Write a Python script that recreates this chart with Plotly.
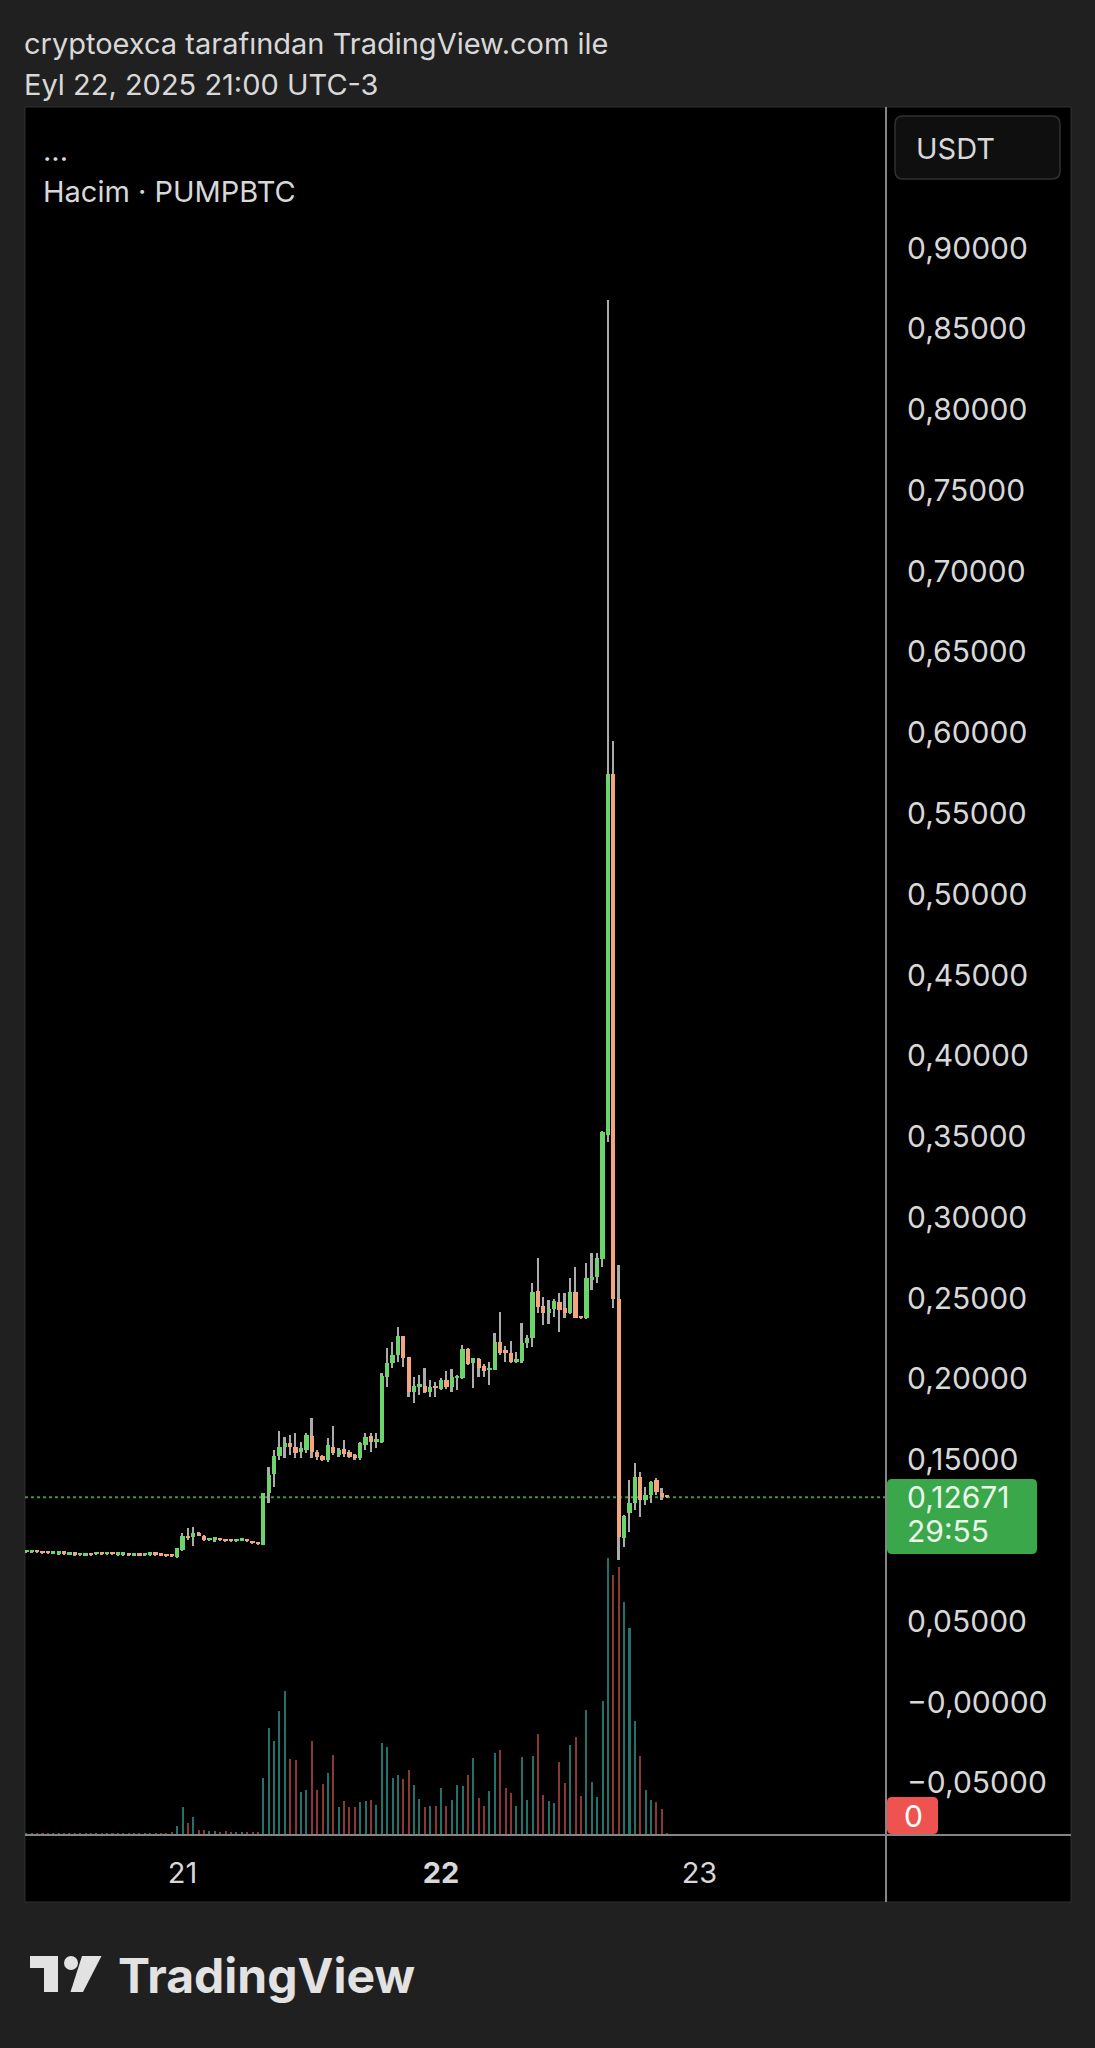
import pandas as pd
import plotly.graph_objects as go

# ---------------- data ----------------
start_time = "2025-09-20 09:30"
bar_minutes = 30

opens = [
    0.0928, 0.0928, 0.0928, 0.0925, 0.0924, 0.0919, 0.0917, 0.0919, 0.0913, 0.0913,
    0.0909, 0.0907, 0.0911, 0.0914, 0.0917, 0.0915, 0.0917, 0.0911, 0.0911, 0.0911,
    0.0907, 0.0909, 0.0909, 0.0911, 0.0913, 0.0909, 0.0905, 0.0903,
    0.0896, 0.0940, 0.1029, 0.1022, 0.1043, 0.1029, 0.1003, 0.1004, 0.1007, 0.1001,
    0.0997, 0.0996, 0.0999, 0.1001, 0.0988, 0.0983,
    0.0972, 0.1292, 0.1410, 0.1520, 0.1581, 0.1601, 0.1581, 0.1550, 0.1560, 0.1649,
    0.1550, 0.1523, 0.1498, 0.1581, 0.1529, 0.1566, 0.1550, 0.1529, 0.1508, 0.1591,
    0.1649, 0.1612, 0.1612, 0.2014, 0.2097, 0.2148, 0.2266, 0.2134, 0.1921, 0.1952,
    0.1958, 0.1921, 0.1952,
    0.1938, 0.1993, 0.1952, 0.2004, 0.2004, 0.2183, 0.2097, 0.2122, 0.2080, 0.2055,
    0.2055, 0.2231, 0.2179, 0.2163, 0.2107, 0.2111, 0.2220, 0.2251, 0.2544, 0.2451,
    0.2406, 0.2431, 0.2478, 0.2437, 0.2406, 0.2540, 0.2390, 0.2375, 0.2612, 0.2633,
    0.2740, 0.3507, 0.5744, 0.2496, 0.1014, 0.1168, 0.1230, 0.1395, 0.1251, 0.1282,
    0.1374, 0.1292, 0.1268,
]
highs = [
    0.0931, 0.0931, 0.0929, 0.0926, 0.0925, 0.0922, 0.0920, 0.0920, 0.0916, 0.0914,
    0.0912, 0.0910, 0.0912, 0.0918, 0.0918, 0.0918, 0.0918, 0.0914, 0.0914, 0.0912,
    0.0910, 0.0910, 0.0912, 0.0914, 0.0914, 0.0910, 0.0906, 0.0904,
    0.0953, 0.1045, 0.1075, 0.1081, 0.1055, 0.1035, 0.1009, 0.1020, 0.1009, 0.1003,
    0.0999, 0.1001, 0.1003, 0.1003, 0.0990, 0.0985,
    0.1295, 0.1457, 0.1560, 0.1678, 0.1639, 0.1653, 0.1667, 0.1612, 0.1667, 0.1756,
    0.1560, 0.1530, 0.1632, 0.1708, 0.1570, 0.1622, 0.1560, 0.1535, 0.1612, 0.1663,
    0.1663, 0.1663, 0.2035, 0.2190, 0.2231, 0.2323, 0.2266, 0.2134, 0.2014, 0.2024,
    0.2066, 0.1993, 0.1983,
    0.2004, 0.2051, 0.2059, 0.2024, 0.2210, 0.2190, 0.2131, 0.2127, 0.2092, 0.2107,
    0.2287, 0.2412, 0.2204, 0.2237, 0.2169, 0.2344, 0.2272, 0.2592, 0.2746, 0.2509,
    0.2489, 0.2493, 0.2534, 0.2530, 0.2627, 0.2691, 0.2392, 0.2720, 0.2777, 0.2782,
    0.3535, 0.8678, 0.5948, 0.2707, 0.1158, 0.1374, 0.1478, 0.1426, 0.1329, 0.1370,
    0.1385, 0.1323, 0.1270,
]
lows = [
    0.0927, 0.0927, 0.0925, 0.0921, 0.0921, 0.0918, 0.0916, 0.0916, 0.0912, 0.0910,
    0.0908, 0.0906, 0.0908, 0.0913, 0.0914, 0.0914, 0.0914, 0.0910, 0.0910, 0.0908,
    0.0906, 0.0906, 0.0908, 0.0910, 0.0910, 0.0906, 0.0902, 0.0900,
    0.0893, 0.0935, 0.1003, 0.0966, 0.1025, 0.0998, 0.0999, 0.0990, 0.0999, 0.0993,
    0.0992, 0.0994, 0.0997, 0.0995, 0.0981, 0.0975,
    0.0970, 0.1231, 0.1333, 0.1500, 0.1508, 0.1529, 0.1508, 0.1508, 0.1540, 0.1508,
    0.1500, 0.1490, 0.1488, 0.1530, 0.1519, 0.1519, 0.1510, 0.1498, 0.1498, 0.1560,
    0.1550, 0.1570, 0.1601, 0.1952, 0.2066, 0.2107, 0.2076, 0.1890, 0.1849, 0.1900,
    0.1911, 0.1890, 0.1890,
    0.1931, 0.1938, 0.1921, 0.1931, 0.1998, 0.2086, 0.1942, 0.2010, 0.2010, 0.1962,
    0.2055, 0.2148, 0.2107, 0.2097, 0.2101, 0.2100, 0.2194, 0.2200, 0.2406, 0.2334,
    0.2340, 0.2385, 0.2293, 0.2375, 0.2402, 0.2375, 0.2373, 0.2369, 0.2551, 0.2592,
    0.2695, 0.3467, 0.2439, 0.0879, 0.0962, 0.1055, 0.1189, 0.1148, 0.1220, 0.1230,
    0.1282, 0.1251, 0.1265,
]
closes = [
    0.0930, 0.0930, 0.0926, 0.0922, 0.0922, 0.0921, 0.0919, 0.0917, 0.0915, 0.0911,
    0.0911, 0.0909, 0.0909, 0.0917, 0.0915, 0.0917, 0.0915, 0.0913, 0.0913, 0.0909,
    0.0909, 0.0907, 0.0911, 0.0913, 0.0911, 0.0907, 0.0903, 0.0901,
    0.0951, 0.1029, 0.1013, 0.1048, 0.1029, 0.1003, 0.1007, 0.1010, 0.1001, 0.0995,
    0.0994, 0.0999, 0.1001, 0.0997, 0.0983, 0.0977,
    0.1292, 0.1405, 0.1520, 0.1581, 0.1601, 0.1577, 0.1540, 0.1570, 0.1653, 0.1550,
    0.1519, 0.1498, 0.1591, 0.1540, 0.1560, 0.1535, 0.1519, 0.1508, 0.1601, 0.1643,
    0.1612, 0.1622, 0.2018, 0.2097, 0.2148, 0.2266, 0.2127, 0.1921, 0.1958, 0.1962,
    0.1921, 0.1948, 0.1942,
    0.1993, 0.1948, 0.2010, 0.2018, 0.2183, 0.2092, 0.2127, 0.2066, 0.2051, 0.2066,
    0.2231, 0.2159, 0.2163, 0.2107, 0.2122, 0.2220, 0.2251, 0.2540, 0.2447, 0.2406,
    0.2431, 0.2484, 0.2427, 0.2406, 0.2540, 0.2375, 0.2375, 0.2623, 0.2633, 0.2746,
    0.3528, 0.5744, 0.2496, 0.1024, 0.1152, 0.1230, 0.1395, 0.1251, 0.1282, 0.1364,
    0.1302, 0.1268, 0.12671,
]
volumes = [
    4, 5, 4, 4, 5, 4, 4, 5, 4, 4, 5, 4, 4, 5, 4, 4, 5, 4, 4, 5, 4, 4, 5, 4, 5, 6, 5, 8,
    26, 85, 35, 55, 16, 14, 11, 11, 10, 11, 8, 8, 8, 10, 10, 8,
    170, 320, 283, 373, 431, 228, 225, 128, 136, 281, 136, 153, 186, 240, 85, 101, 83,
    83, 98, 103, 106, 91, 275, 263, 171, 181, 167, 196, 151, 108, 85, 86, 86,
    140, 88, 106, 151, 148, 180, 230, 110, 86, 133, 245, 254, 140, 125, 86, 235, 106,
    238, 303, 120, 101, 96, 218, 155, 270, 293, 118, 376, 160, 113, 403, 830, 781, 805,
    698, 621, 343, 237, 135, 106, 98, 78, 6,
]

price_ticks = [0.90, 0.85, 0.80, 0.75, 0.70, 0.65, 0.60, 0.55, 0.50, 0.45, 0.40,
               0.35, 0.30, 0.25, 0.20, 0.15, 0.05, 0.0, -0.05]
price_tick_labels = ["0,90000", "0,85000", "0,80000", "0,75000", "0,70000", "0,65000",
                     "0,60000", "0,55000", "0,50000", "0,45000", "0,40000", "0,35000",
                     "0,30000", "0,25000", "0,20000", "0,15000", "0,05000", "\u22120,00000",
                     "\u22120,05000"]
day_ticks = ["2025-09-21", "2025-09-22", "2025-09-23"]
day_tick_labels = ["21", "<b>22</b>", "23"]

header_line1 = "cryptoexca tarafından TradingView.com ile"
header_line2 = "Eyl 22, 2025 21:00 UTC-3"
pane_title = "Hacim · PUMPBTC"
last_price_text = "0,12671"
countdown_text = "29:55"
last_volume_text = "0"
currency = "USDT"

# ---------------- styling ----------------
W, H = 1095, 2048
PL, PT, PR, PB = 25, 107, 886, 1835
BG = "#202020"
UP = "#6cd46a"
DN = "#f5a47c"
WICK = "#ababab"
VUP = "#22716a"
VDN = "#8a3833"
TXT = "#d8d8d8"
FONT = "Inter, Roboto, sans-serif"
AX_SIZE = 30
TXT_SIZE = 29

def X(px):
    return (px - PL) / (PR - PL)

def Y(py):
    return (PB - py) / (PB - PT)

def rrect(x0, y0, x1, y1, r):
    return (f"M {X(x0 + r)},{Y(y0)} L {X(x1 - r)},{Y(y0)} Q {X(x1)},{Y(y0)} {X(x1)},{Y(y0 + r)} "
            f"L {X(x1)},{Y(y1 - r)} Q {X(x1)},{Y(y1)} {X(x1 - r)},{Y(y1)} "
            f"L {X(x0 + r)},{Y(y1)} Q {X(x0)},{Y(y1)} {X(x0)},{Y(y1 - r)} "
            f"L {X(x0)},{Y(y0 + r)} Q {X(x0)},{Y(y0)} {X(x0 + r)},{Y(y0)} Z")

times = pd.date_range(start_time, periods=len(closes), freq=f"{bar_minutes}min")
step_ms = bar_minutes * 60 * 1000

up = [c >= o for o, c in zip(opens, closes)]
body_base = [min(o, c) for o, c in zip(opens, closes)]
body_h = [max(abs(c - o), 0.0015) for o, c in zip(opens, closes)]
wick_h = [h - l for h, l in zip(highs, lows)]

fig = go.Figure()
# volume (hidden axis y)
fig.add_trace(go.Bar(x=times, y=volumes, width=0.38 * step_ms,
                     marker=dict(color=[VUP if u else VDN for u in up], line=dict(width=0)),
                     yaxis="y", hoverinfo="skip"))
# wicks (drawn before bodies so bodies sit on top)
fig.add_trace(go.Bar(x=times, y=wick_h, base=lows, width=0.32 * step_ms,
                     marker=dict(color=WICK, line=dict(width=0)),
                     yaxis="y2", hoverinfo="skip"))
# bodies
fig.add_trace(go.Bar(x=times, y=body_h, base=body_base, width=0.8 * step_ms,
                     marker=dict(color=[UP if u else DN for u in up], line=dict(width=0)),
                     yaxis="y2", hoverinfo="skip"))

t0 = pd.Timestamp("2025-09-22 00:00")
px_per_bar = 5.385
x_left = t0 + pd.Timedelta(minutes=bar_minutes * (PL - 441) / px_per_bar)
x_right = t0 + pd.Timedelta(minutes=bar_minutes * (PR - 441) / px_per_bar)

px_per_unit = 80.78 / 0.05
p_top = 0.90 + (248 - PT) / px_per_unit
p_bot = 0.90 - (PB - 248) / px_per_unit

shapes = [
    dict(type="rect", xref="paper", yref="paper", x0=X(25), x1=X(1071), y0=Y(1902), y1=Y(107),
         fillcolor="#000000", line=dict(color="#2e2e2e", width=1), layer="below"),
    dict(type="line", xref="paper", yref="y2", x0=0, x1=1, y0=closes[-1], y1=closes[-1],
         line=dict(color="rgba(76,175,80,0.85)", width=2, dash="dot"), layer="below"),
    dict(type="line", xref="paper", yref="paper", x0=1, x1=1, y0=Y(1902), y1=Y(107),
         line=dict(color="#858585", width=2), layer="above"),
    dict(type="line", xref="paper", yref="paper", x0=0, x1=X(1071), y0=0, y1=0,
         line=dict(color="#858585", width=2), layer="above"),
    dict(type="path", xref="paper", yref="paper", path=rrect(895, 116, 1060, 179, 8),
         fillcolor="#0f0f0f", line=dict(color="#303030", width=1.5), layer="above"),
    dict(type="path", xref="paper", yref="paper", path=rrect(887, 1479, 1037, 1554, 5),
         fillcolor="#3aa84a", line=dict(width=0), layer="above"),
    dict(type="path", xref="paper", yref="paper", path=rrect(887, 1797, 938, 1834, 5),
         fillcolor="#ef5350", line=dict(width=0), layer="above"),
    # TradingView logo mark
    dict(type="rect", xref="paper", yref="paper", x0=X(30), x1=X(58), y0=Y(1968), y1=Y(1956),
         fillcolor="#e2e2e2", line=dict(width=0), layer="above"),
    dict(type="rect", xref="paper", yref="paper", x0=X(44), x1=X(58), y0=Y(1992), y1=Y(1956),
         fillcolor="#e2e2e2", line=dict(width=0), layer="above"),
    dict(type="circle", xref="paper", yref="paper", x0=X(64), x1=X(78), y0=Y(1970), y1=Y(1956),
         fillcolor="#e2e2e2", line=dict(width=0), layer="above"),
    dict(type="path", xref="paper", yref="paper",
         path=f"M {X(82)},{Y(1956)} L {X(101.5)},{Y(1956)} L {X(83)},{Y(1992)} L {X(70.5)},{Y(1992)} Z",
         fillcolor="#e2e2e2", line=dict(width=0), layer="above"),
]

def ann(text, x, y, size=TXT_SIZE, color=TXT, xanchor="left"):
    return dict(text=text, x=X(x), y=Y(y), xref="paper", yref="paper", showarrow=False,
                xanchor=xanchor, yanchor="middle", font=dict(family=FONT, size=size, color=color))

annotations = [
    ann(header_line1, 22, 43),
    ann(header_line2, 22, 84),
    ann("...", 41, 151),
    ann(pane_title, 41, 192),
    ann(currency, 914, 148),
    ann(last_price_text, 905, 1497, size=AX_SIZE, color="#eaf7ea"),
    ann(countdown_text, 905, 1531, size=AX_SIZE, color="#eaf7ea"),
    ann(last_volume_text, 913, 1816, size=AX_SIZE, color="#ffffff", xanchor="center"),
    ann("<b>TradingView</b>", 116, 1975, size=48, color="#e2e2e2"),
]

fig.update_layout(
    width=W, height=H,
    margin=dict(l=PL, r=W - PR, t=PT, b=H - PB, pad=0),
    paper_bgcolor=BG, plot_bgcolor="#000000",
    showlegend=False, barmode="overlay", bargap=0, hovermode=False,
    font=dict(family=FONT, color=TXT),
    xaxis=dict(type="date", range=[x_left, x_right], showgrid=False, zeroline=False,
               showline=False, tickmode="array", tickvals=day_ticks, ticktext=day_tick_labels,
               ticks="", tickfont=dict(family=FONT, size=TXT_SIZE, color=TXT), ticklabelstandoff=18),
    yaxis=dict(range=[0, (PB - PT) * 3.0], visible=False, fixedrange=True),
    yaxis2=dict(overlaying="y", side="right", anchor="x", range=[p_bot, p_top],
                showgrid=False, zeroline=False, showline=False, tickmode="array",
                tickvals=price_ticks, ticktext=price_tick_labels, ticks="",
                tickfont=dict(family=FONT, size=AX_SIZE, color=TXT), ticklabelstandoff=20),
    shapes=shapes, annotations=annotations,
)

fig.write_html(
    "out.html",
    config={"displayModeBar": False},
    post_script="document.body.style.margin='0';document.body.style.background='#202020';",
)
